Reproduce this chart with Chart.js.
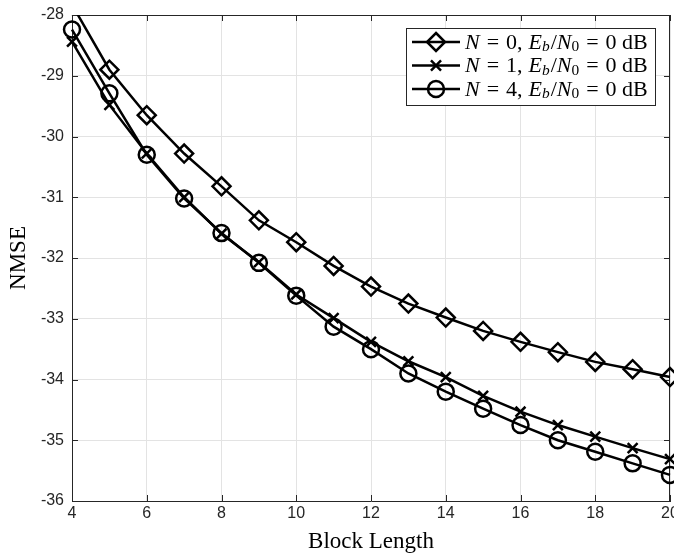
<!DOCTYPE html>
<html>
<head>
<meta charset="utf-8">
<script src="https://cdn.jsdelivr.net/npm/chart.js@4.4.1/dist/chart.umd.min.js"></script>
<style>
  html, body { margin: 0; padding: 0; background: #fff; }
  #wrap { width: 674px; height: 553px; }
</style>
</head>
<body>
<div id="wrap"><canvas id="chart" width="674" height="553"></canvas></div>
<script>
const blockLength = [4, 5, 6, 7, 8, 9, 10, 11, 12, 13, 14, 15, 16, 17, 18, 19, 20];
const nmseN0 = [-27.83, -28.9, -29.65, -30.28, -30.82, -31.38, -31.74, -32.13, -32.47, -32.75, -32.98, -33.2, -33.38, -33.55, -33.71, -33.83, -33.96];
const nmseN1 = [-28.44, -29.48, -30.28, -31.0, -31.6, -32.07, -32.6, -32.99, -33.38, -33.7, -33.96, -34.27, -34.53, -34.75, -34.94, -35.13, -35.31];
const nmseN4 = [-28.24, -29.29, -30.3, -31.02, -31.59, -32.08, -32.62, -33.13, -33.5, -33.9, -34.2, -34.48, -34.75, -35.0, -35.19, -35.38, -35.57];
const nValues = [0, 1, 4];
const ebN0 = 0;
const markers = ['rectRot', 'crossRot', 'circle'];
const markerSizes = [9, 7, 8];

const axisColor = '#262626';
const gridColor = '#e3e3e3';
const serif = '"Liberation Serif", "Times New Roman", serif';
const sans = '"Liberation Sans", Arial, sans-serif';

// pieces of the legend maths, gap = extra space after the piece in px
function legendParts(n) {
  return [
    { t: 'N', it: true, gap: 7 }, { t: '=', gap: 7 }, { t: n + ',', gap: 6 },
    { t: 'E', it: true }, { t: 'b', it: true, sub: true, gap: 1 }, { t: '/' },
    { t: 'N', it: true }, { t: '0', sub: true, gap: 7 }, { t: '=', gap: 7 }, { t: ebN0 + ' dB' }
  ];
}

function drawMath(ctx, parts, x, y, size) {
  for (const p of parts) {
    const s = p.sub ? size * 0.7 : size;
    ctx.font = (p.it ? 'italic ' : '') + s + 'px ' + serif;
    ctx.fillText(p.t, x, p.sub ? y + size * 0.2 : y);
    x += ctx.measureText(p.t).width + (p.gap || 0);
  }
}

function drawMarker(ctx, style, r, cx, cy) {
  ctx.beginPath();
  if (style === 'rectRot') {
    ctx.moveTo(cx, cy - r); ctx.lineTo(cx + r, cy); ctx.lineTo(cx, cy + r); ctx.lineTo(cx - r, cy); ctx.closePath();
  } else if (style === 'crossRot') {
    const d = r * 0.72;
    ctx.moveTo(cx - d, cy - d); ctx.lineTo(cx + d, cy + d);
    ctx.moveTo(cx + d, cy - d); ctx.lineTo(cx - d, cy + d);
  } else {
    ctx.arc(cx, cy, r, 0, Math.PI * 2);
  }
  ctx.stroke();
}

// box round the axes and MATLAB style inward ticks
const framePlugin = {
  id: 'frame',
  beforeDatasetsDraw(chart) {
    const { ctx, chartArea: a, scales: { x, y } } = chart;
    ctx.save();
    ctx.strokeStyle = axisColor;
    ctx.lineWidth = 1;
    ctx.beginPath();
    for (const t of x.ticks) {
      const px = Math.round(x.getPixelForValue(t.value)) + 0.5;
      ctx.moveTo(px, a.bottom); ctx.lineTo(px, a.bottom - 6);
      ctx.moveTo(px, a.top); ctx.lineTo(px, a.top + 6);
    }
    for (const t of y.ticks) {
      const py = Math.round(y.getPixelForValue(t.value)) + 0.5;
      ctx.moveTo(a.left, py); ctx.lineTo(a.left + 6, py);
      ctx.moveTo(a.right, py); ctx.lineTo(a.right - 6, py);
    }
    ctx.moveTo(a.left, Math.round(a.top) + 0.5); ctx.lineTo(a.right, Math.round(a.top) + 0.5);
    ctx.moveTo(Math.round(a.right) - 0.5, a.top); ctx.lineTo(Math.round(a.right) - 0.5, a.bottom);
    ctx.stroke();
    ctx.restore();
  }
};

const legendPlugin = {
  id: 'mathLegend',
  afterDraw(chart) {
    const { ctx } = chart;
    const bx = 406.5, by = 28.5, bw = 249, bh = 77;
    ctx.save();
    ctx.fillStyle = '#fff';
    ctx.fillRect(bx, by, bw, bh);
    ctx.strokeStyle = axisColor;
    ctx.lineWidth = 1;
    ctx.strokeRect(bx, by, bw, bh);
    chart.data.datasets.forEach((ds, i) => {
      const cy = 42 + i * 23.5;
      ctx.strokeStyle = '#000';
      ctx.lineWidth = 2.5;
      ctx.beginPath(); ctx.moveTo(412, cy); ctx.lineTo(460, cy); ctx.stroke();
      drawMarker(ctx, markers[i], markerSizes[i], 436, cy);
      ctx.fillStyle = '#000';
      ctx.textBaseline = 'middle';
      ctx.textAlign = 'left';
      drawMath(ctx, legendParts(nValues[i]), 465, cy + 1, 22);
    });
    ctx.restore();
  }
};

const series = [nmseN0, nmseN1, nmseN4];
const datasets = series.map((vals, i) => ({
  label: 'N = ' + nValues[i] + ', Eb/N0 = ' + ebN0 + ' dB',
  data: blockLength.map((b, j) => ({ x: b, y: vals[j] })),
  borderColor: '#000',
  backgroundColor: 'rgba(0,0,0,0)',
  borderWidth: 2.5,
  pointStyle: markers[i],
  pointRadius: markerSizes[i],
  pointBorderWidth: 2.5,
  pointBorderColor: '#000',
  pointBackgroundColor: 'rgba(0,0,0,0)',
  tension: 0,
  clip: { left: 12, right: 12, top: 0, bottom: 12 }
}));

new Chart(document.getElementById('chart'), {
  type: 'line',
  data: { datasets },
  options: {
    responsive: false,
    animation: false,
    devicePixelRatio: 1,
    layout: { autoPadding: false, padding: { top: 15, right: 4, left: 0, bottom: 0 } },
    plugins: { legend: { display: false }, tooltip: { enabled: false } },
    scales: {
      x: {
        type: 'linear',
        min: 4, max: 20,
        ticks: { stepSize: 2, color: axisColor, font: { family: sans, size: 16 }, padding: 3, maxRotation: 0 },
        grid: { color: gridColor, drawTicks: false },
        border: { color: axisColor, width: 1 },
        title: { display: true, text: 'Block Length', color: '#000', font: { family: serif, size: 23, lineHeight: 1 }, padding: { top: 0, bottom: 0 } },
        afterFit(s) { s.height = 52; s.paddingLeft = 0; s.paddingRight = 0; }
      },
      y: {
        type: 'linear',
        min: -36, max: -28,
        ticks: { stepSize: 1, color: axisColor, font: { family: sans, size: 16 }, padding: 8 },
        grid: { color: gridColor, drawTicks: false },
        border: { color: axisColor, width: 1 },
        title: { display: true, text: 'NMSE', color: '#000', font: { family: serif, size: 23, lineHeight: 1 }, padding: { top: 7, bottom: 0 } },
        afterFit(s) { s.width = 72; s.paddingTop = 0; s.paddingBottom = 0; }
      }
    }
  },
  plugins: [framePlugin, legendPlugin]
});
</script>
</body>
</html>
